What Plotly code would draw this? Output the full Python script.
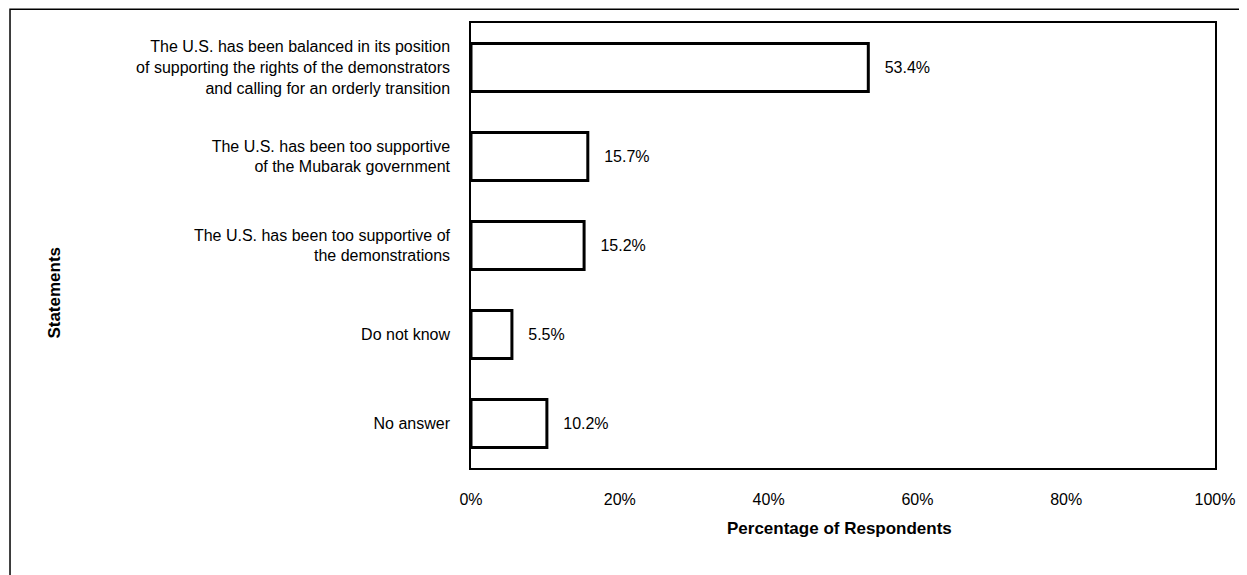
import plotly.graph_objects as go

categories = [
    "The U.S. has been balanced in its position<br>of supporting the rights of the demonstrators<br>and calling for an orderly transition",
    "The U.S. has been too supportive<br>of the Mubarak government",
    "The U.S. has been too supportive of<br>the demonstrations",
    "Do not know",
    "No answer",
]
values = [53.4, 15.7, 15.2, 5.5, 10.2]
labels = ["53.4%", "15.7%", "15.2%", "5.5%", "10.2%"]
tick_vals = [0, 20, 40, 60, 80, 100]
tick_text = ["0%", "20%", "40%", "60%", "80%", "100%"]

FONT = "Liberation Sans, Arial, sans-serif"
PAD = "\u00a0\u00a0\u00a0"

fig = go.Figure()
fig.add_trace(go.Bar(
    y=categories, x=values, orientation="h",
    marker=dict(color="white", line=dict(color="black", width=3)),
    width=0.54,
    text=[PAD + t for t in labels], textposition="outside", cliponaxis=False,
    textfont=dict(family=FONT, size=16, color="black"),
    hoverinfo="skip",
))

fig.update_layout(
    width=1247, height=575,
    margin=dict(l=463, r=40, t=15, b=115),
    paper_bgcolor="white", plot_bgcolor="white",
    showlegend=False,
    font=dict(family=FONT, size=16, color="black"),
    xaxis=dict(range=[0, 100], tickvals=tick_vals, ticktext=tick_text,
               showgrid=False, zeroline=False, showline=True, linecolor="black",
               linewidth=1.5, mirror=True, ticks="", tickfont=dict(size=16),
               ticklabelstandoff=16),
    yaxis=dict(autorange="reversed", showgrid=False, zeroline=False, showline=True,
               linecolor="black", linewidth=1.5, mirror=True, ticks="",
               ticklabelstandoff=16, tickfont=dict(size=16)),
    annotations=[
        dict(text="<b>Percentage of Respondents</b>", xref="paper", yref="paper",
             x=0.495, y=-0.135, xanchor="center", yanchor="middle",
             showarrow=False, font=dict(size=17)),
        dict(text="<b>Statements</b>", xref="paper", yref="paper",
             x=-0.560, y=0.395, xanchor="center", yanchor="middle",
             textangle=-90, showarrow=False, font=dict(size=17)),
    ],
)
fig.add_shape(type="rect", xref="paper", yref="paper",
              x0=-0.6196, x1=1.039, y0=-0.4, y1=1.031,
              line=dict(color="black", width=1.5))

fig.write_html("out.html")
